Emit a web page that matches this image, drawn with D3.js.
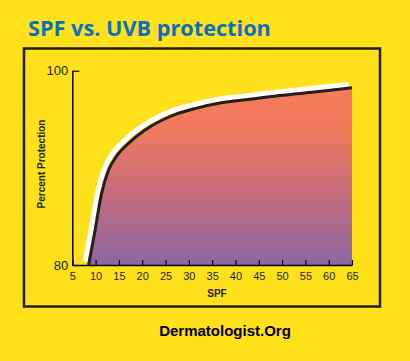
<!DOCTYPE html>
<html><head><meta charset="utf-8">
<script src="https://cdn.jsdelivr.net/npm/d3@7"></script>
<style>html,body{margin:0;padding:0;background:#fee01b;}svg{display:block;}</style>
</head><body>
<script>
const spf = [8.5, 9.9, 11.2, 12.8, 14.2, 17.0, 20.6, 24.2, 27.7, 31.3, 37.0, 43.0, 49.5, 58.0, 65];
const protection = [80.0, 83.6, 87.2, 89.8, 91.0, 92.5, 93.9, 94.9, 95.6, 96.1, 96.7, 97.05, 97.45, 97.85, 98.25];
const xTicks = [5,10,15,20,25,30,35,40,45,50,55,60,65];
const yTicks = [80,100];
const title = "SPF vs. UVB protection";
const xTitle = "SPF", yTitle = "Percent Protection", credit = "Dermatologist.Org";

const W = 410, H = 361;
const svg = d3.select("body").append("svg").attr("width", W).attr("height", H);
svg.append("rect").attr("width", W).attr("height", H).attr("fill", "#fee01b");
svg.append("rect").attr("x", 24).attr("y", 48.5).attr("width", 356).attr("height", 258)
  .attr("fill", "none").attr("stroke", "#231f20").attr("stroke-width", 2.5);

svg.append("text").attr("x", 28).attr("y", 36).text(title)
  .attr("font-family", "Open Sans").attr("font-weight", "bold").attr("font-size", 21.7)
  .attr("fill", "#0a70bd");

const x = d3.scaleLinear().domain([5, 65]).range([72.3, 352]);
const y = d3.scaleLinear().domain([80, 100]).range([265, 70.7]);
const data = spf.map((s, i) => ({s, p: protection[i]}));

const defs = svg.append("defs");
const grad = defs.append("linearGradient").attr("id", "g").attr("gradientUnits", "userSpaceOnUse")
  .attr("x1", 0).attr("x2", 0).attr("y1", y(98.3)).attr("y2", y(80));
grad.append("stop").attr("offset", "0").attr("stop-color", "#f57c58");
grad.append("stop").attr("offset", "0.25").attr("stop-color", "#f07a5e");
grad.append("stop").attr("offset", "0.6").attr("stop-color", "#c46b7c");
grad.append("stop").attr("offset", "1").attr("stop-color", "#8b66a3");

const line = d3.line().x(d => x(d.s)).y(d => y(d.p)).curve(d3.curveMonotoneX);
const area = d3.area().x(d => x(d.s)).y0(y(80)).y1(d => y(d.p)).curve(d3.curveMonotoneX);

svg.append("path").datum(data).attr("d", line).attr("fill", "none")
  .attr("stroke", "#fff").attr("stroke-width", 5).attr("transform", "translate(-3.5,-3.5)");
svg.append("path").datum(data).attr("d", area).attr("fill", "url(#g)");
svg.append("path").datum(data).attr("d", line).attr("fill", "none")
  .attr("stroke", "#231f20").attr("stroke-width", 3);

const xa = svg.append("g").attr("transform", `translate(0,${y(80)})`)
  .call(d3.axisBottom(x).tickValues(xTicks).tickSizeInner(-5).tickSizeOuter(0).tickPadding(7));
const ya = svg.append("g").attr("transform", `translate(${x(5)},0)`)
  .call(d3.axisLeft(y).tickValues(yTicks).tickSizeInner(-7).tickSizeOuter(0).tickPadding(4));
[xa, ya].forEach(a => {
  a.select(".domain").attr("stroke", "#000").attr("stroke-width", 1.5);
  a.selectAll(".tick line").attr("stroke", "#000").attr("stroke-width", 1.2);
  a.selectAll("text").attr("fill", "#231f20").attr("font-family", "Liberation Sans");
});
xa.selectAll("text").attr("font-size", 11);
ya.selectAll("text").attr("font-size", 13);

svg.append("text").attr("x", 217).attr("y", 297).attr("text-anchor", "middle").text(xTitle)
  .attr("font-family", "Liberation Sans").attr("font-weight", "bold").attr("font-size", 10).attr("fill", "#231f20");
svg.append("text").attr("transform", "translate(45,164) rotate(-90)").attr("text-anchor", "middle").text(yTitle)
  .attr("font-family", "Liberation Sans").attr("font-weight", "bold").attr("font-size", 10).attr("fill", "#231f20");
svg.append("text").attr("x", 225).attr("y", 336).attr("text-anchor", "middle").text(credit)
  .attr("font-family", "Liberation Sans").attr("font-weight", "bold").attr("font-size", 15).attr("fill", "#000");
</script>
</body></html>
